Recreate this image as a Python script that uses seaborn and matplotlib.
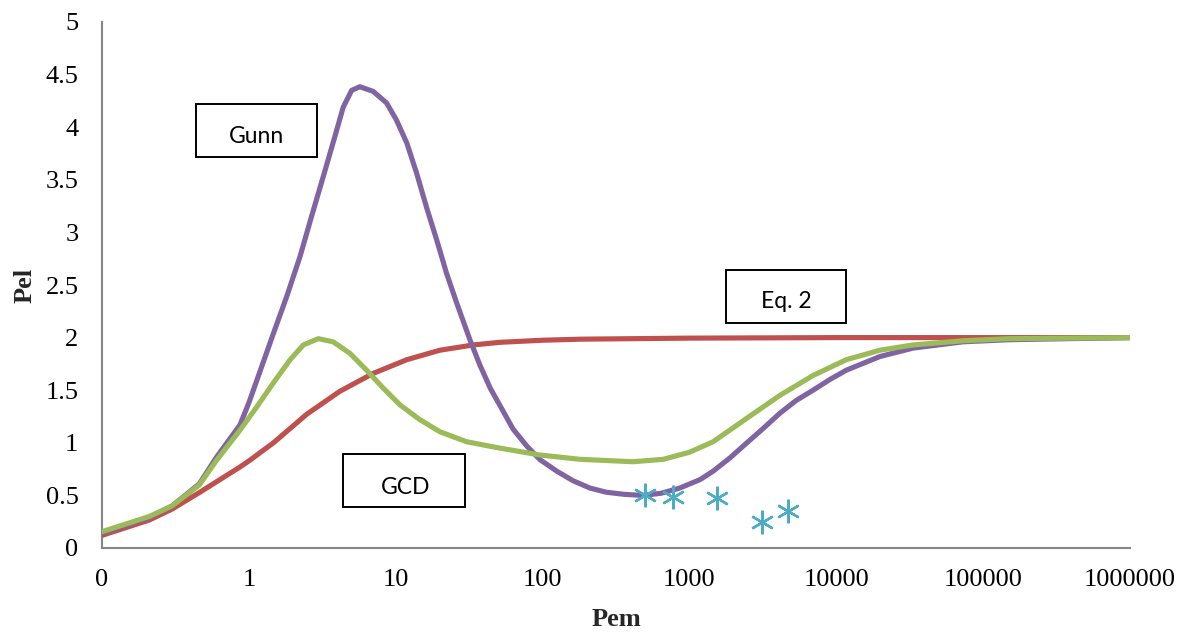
import matplotlib
matplotlib.use("Agg")
import matplotlib.pyplot as plt
from matplotlib.patches import Rectangle
from matplotlib.ticker import FixedLocator, FixedFormatter, NullLocator
import seaborn as sns
import pandas as pd

# ---- data ----
gunn_x = [0.1, 0.21, 0.3, 0.46, 0.6, 0.87, 1.0, 1.22, 1.47, 1.81, 2.23, 2.67, 3.21, 3.85,
          4.39, 5.01, 5.7, 7.03, 8.67, 10.1, 11.9, 13.9, 16.2, 19.0, 22.2, 26.0, 32, 37.4,
          44, 51, 63, 78, 96, 125, 161, 210, 272, 360, 480, 640, 860, 1180, 1450, 1900,
          2440, 3200, 4120, 5300, 6950, 9000, 11700, 19800, 33300, 73000, 150000, 1000000]
gunn_y = [0.14, 0.29, 0.40, 0.61, 0.86, 1.17, 1.38, 1.72, 2.04, 2.39, 2.77, 3.15, 3.53, 3.91,
          4.19, 4.35, 4.385, 4.34, 4.23, 4.07, 3.85, 3.56, 3.24, 2.93, 2.61, 2.33, 1.98, 1.74,
          1.52, 1.36, 1.13, 0.97, 0.84, 0.73, 0.64, 0.57, 0.53, 0.51, 0.50, 0.52, 0.57, 0.65, 0.73, 0.86,
          0.995, 1.14, 1.28, 1.40, 1.50, 1.60, 1.69, 1.82, 1.90, 1.96, 1.98, 2.0]

gcd_x = [0.1, 0.21, 0.3, 0.46, 0.6, 0.87, 1.13, 1.47, 1.91, 2.35, 2.97, 3.75, 4.88, 6.34,
         8.22, 10.7, 14.6, 20, 30.4, 51, 96, 180, 414, 664, 1000, 1450, 2440, 4120, 6950,
         11700, 19800, 33300, 73000, 150000, 1000000]
gcd_y = [0.155, 0.30, 0.40, 0.60, 0.83, 1.12, 1.34, 1.57, 1.79, 1.93, 1.99, 1.96, 1.85, 1.69,
         1.52, 1.36, 1.22, 1.105, 1.01, 0.95, 0.884, 0.843, 0.82, 0.843, 0.91, 1.01, 1.23, 1.45, 1.64,
         1.79, 1.88, 1.93, 1.97, 1.99, 2.0]

eq2_x = [0.1, 0.21, 0.3, 0.47, 0.87, 1.02, 1.47, 2.47, 4.17, 7.03, 11.9, 20, 33.7, 51, 100,
         180, 1000, 10000, 1000000]
eq2_y = [0.12, 0.266, 0.37, 0.535, 0.77, 0.836, 1.0, 1.27, 1.49, 1.66, 1.79, 1.88, 1.93, 1.955,
         1.975, 1.985, 1.995, 2.0, 2.0]

exp_x = [497, 774, 1545, 3126, 4659]
exp_y = [0.504, 0.488, 0.478, 0.25, 0.352]

x_ticks = [0.1, 1, 10, 100, 1000, 10000, 100000, 1000000]
x_tick_labels = ["0", "1", "10", "100", "1000", "10000", "100000", "1000000"]
y_ticks = [0, 0.5, 1, 1.5, 2, 2.5, 3, 3.5, 4, 4.5, 5]
y_tick_labels = ["0", "0.5", "1", "1.5", "2", "2.5", "3", "3.5", "4", "4.5", "5"]

labels = ["Gunn", "Eq. 2", "GCD"]

# ---- style ----
sns.set_theme(style="white")
plt.rcParams["font.family"] = ["Liberation Serif", "DejaVu Serif"]

fig = plt.figure(figsize=(11.92, 6.32), dpi=100)
ax = fig.add_axes([102 / 1192, 1 - 548 / 632, 1028 / 1192, 526 / 632])

purple = "#8064A2"
red = "#C0504D"
green = "#9BBB59"
cyan = "#4BACC6"
grey = "#868686"

df_g = pd.DataFrame({"x": gunn_x, "y": gunn_y})
df_c = pd.DataFrame({"x": gcd_x, "y": gcd_y})
df_e = pd.DataFrame({"x": eq2_x, "y": eq2_y})
df_p = pd.DataFrame({"x": exp_x, "y": exp_y})

line_kw = dict(lw=3.7, solid_joinstyle="round", solid_capstyle="round")
sns.lineplot(data=df_e, x="x", y="y", ax=ax, color=red, zorder=3, **line_kw)
sns.lineplot(data=df_g, x="x", y="y", ax=ax, color=purple, zorder=4, **line_kw)
sns.lineplot(data=df_c, x="x", y="y", ax=ax, color=green, zorder=5, **line_kw)
ax.plot(df_p["x"], df_p["y"], linestyle="none", marker=(6, 2, 0), markersize=17,
        markeredgewidth=1.7, color=cyan, zorder=6)

ax.set_xscale("log")
ax.set_xlim(0.1, 1000000)
ax.set_ylim(0, 5)
ax.xaxis.set_major_locator(FixedLocator(x_ticks))
ax.xaxis.set_major_formatter(FixedFormatter(x_tick_labels))
ax.xaxis.set_minor_locator(NullLocator())
ax.yaxis.set_major_locator(FixedLocator(y_ticks))
ax.yaxis.set_major_formatter(FixedFormatter(y_tick_labels))

for s in ["top", "right"]:
    ax.spines[s].set_visible(False)
for s in ["left", "bottom"]:
    ax.spines[s].set_color(grey)
    ax.spines[s].set_linewidth(1.5)

ax.tick_params(axis="both", which="major", direction="in", length=6, width=1.5,
               color=grey, labelsize=19, labelcolor="black")
ax.tick_params(axis="x", pad=15)
ax.tick_params(axis="y", pad=17)

ax.set_xlabel("Pem", fontsize=19, fontweight="bold", labelpad=12)
ax.set_ylabel("Pel", fontsize=19, fontweight="bold", labelpad=6)
ax.grid(False)

# ---- annotation boxes ----
boxes = [
    (0.0914, 0.7433, 0.1177, 0.1008, 0.1503, 0.783),
    (0.6070, 0.4278, 0.1167, 0.1008, 0.6654, 0.4677),
    (0.2344, 0.0780, 0.1187, 0.1008, 0.2950, 0.115),
]
for lab, (bx, by, bw, bh, tx, ty) in zip(labels, boxes):
    ax.add_patch(Rectangle((bx, by), bw, bh, transform=ax.transAxes, fill=True,
                           facecolor="white", edgecolor="black", lw=1.4, zorder=7,
                           clip_on=False))
    ax.text(tx, ty, lab, transform=ax.transAxes, ha="center", va="center",
            fontsize=16.5, family=["Lato", "DejaVu Sans"], color="black", zorder=8)

fig.savefig("out.png", dpi=100, facecolor="white")
